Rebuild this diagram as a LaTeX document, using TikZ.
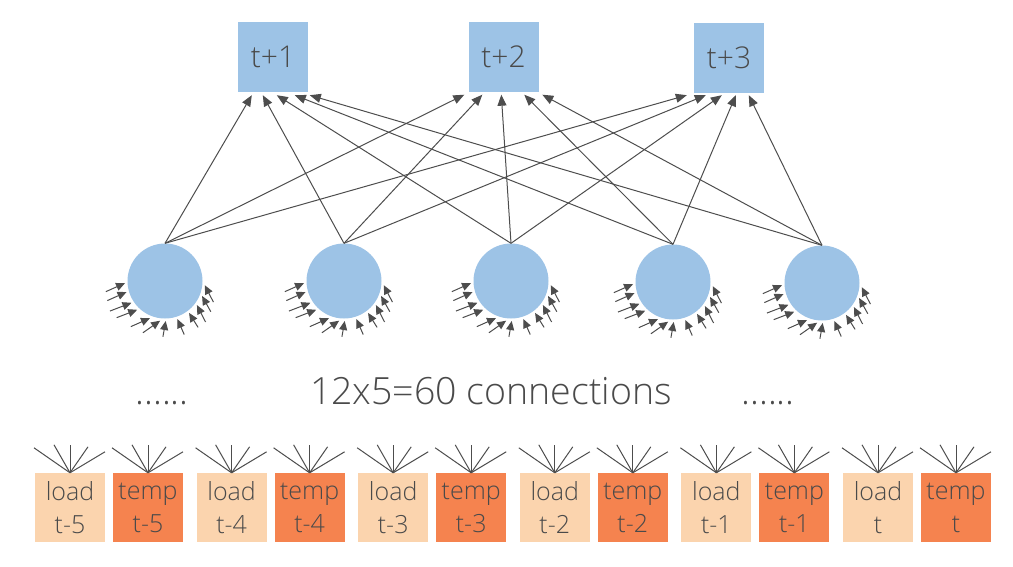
\documentclass[tikz,border=0pt]{standalone}
\usepackage{fontspec}
\setmainfont{Open Sans Light}
\usetikzlibrary{arrows.meta,calc}
\definecolor{bluefill}{HTML}{9DC3E6}
\definecolor{loadfill}{HTML}{FBD4AE}
\definecolor{tempfill}{HTML}{F5834F}
\definecolor{txt}{HTML}{4A4A4A}
\definecolor{ln}{HTML}{4D4D4D}
\begin{document}
\begin{tikzpicture}[x=1pt,y=-1pt,
  outbox/.style={fill=bluefill, draw=none, minimum width=70pt, minimum height=70pt, inner sep=0pt, font=\fontsize{30}{32}\selectfont, text=txt},
  neuron/.style={circle, fill=bluefill, minimum size=75pt, inner sep=0pt},
  inbox/.style={draw=none, minimum width=70pt, minimum height=69pt, inner sep=0pt, align=center, font=\fontsize{25}{33}\selectfont, text=txt},
  loadbox/.style={inbox, fill=loadfill},
  tempbox/.style={inbox, fill=tempfill},
  conn/.style={draw=ln, line width=1pt, -{Triangle[length=11pt,width=9pt]}},
  smallarrow/.style={draw=ln, line width=1pt, -{Triangle[length=9pt,width=8pt]}},
  fanline/.style={draw=ln, line width=1pt},
  label/.style={font=\fontsize{37.5}{42}\selectfont, text=txt, inner sep=0pt, anchor=base},
]
\useasboundingbox (0,0) rectangle (1013,566);

% output boxes
\node[outbox] (o1) at (273,57) {\raisebox{-2pt}{t+1}};
\node[outbox] (o2) at (503.5,56.5) {\raisebox{-2pt}{t+2}};
\node[outbox] (o3) at (729,58) {\raisebox{-2pt}{t+3}};

% hidden neurons
\node[neuron] (c1) at (165,281) {};
\node[neuron] (c2) at (344,281) {};
\node[neuron] (c3) at (511,281) {};
\node[neuron] (c4) at (673,282) {};
\node[neuron] (c5) at (822,283) {};

% connections hidden -> output
\foreach \c/\a/\b/\d in {1/14/-4/-7, 2/25/14/12, 3/39/33/28, 4/57/56/42, 5/72/74/55} {
  \draw[conn] (c\c.north) -- ([shift={(\a,3)}]o1.south west);
  \draw[conn] (c\c.north) -- ([shift={(\b,3)}]o2.south west);
  \draw[conn] (c\c.north) -- ([shift={(\d,2)}]o3.south west);
}

% incoming arrows at each neuron
\foreach \n in {1,...,5} {
  \foreach \al/\d/\len in {183/24/21, 196/24/21, 213/21/23, 226/21/22, 248/24/21, 263/35/21, 271/80/16, 288/114/17, 307/122/17, 323/117/19, 338/119/18, 354/117/19} {
    \draw[smallarrow] ($(c\n.center)+(-\al:40)+({-\d-180}:\len)$) -- ($(c\n.center)+(-\al:40)$);
  }
}

% caption
\node[label] (cap) at (491,404) {12x5=60 connections};
\node[label] (dl) at (162,404) {......};
\node[label] (dr) at (768,404) {......};

% input boxes
\foreach \i/\lab in {0/t-5,1/t-4,2/t-3,3/t-2,4/t-1,5/t} {
  \node[loadbox] (l\i) at ({70+161.6*\i},507.5) {load\\\lab};
  \node[tempbox] (m\i) at ({148+161.6*\i},507.5) {temp\\\lab};
  \foreach \fx/\fy in {-36/-25,-16/-28,0/-28,18/-26,35/-21} {
    \draw[fanline] (l\i.north) -- ++(\fx,\fy);
    \draw[fanline] (m\i.north) -- ++(\fx,\fy);
  }
}
\end{tikzpicture}
\end{document}
